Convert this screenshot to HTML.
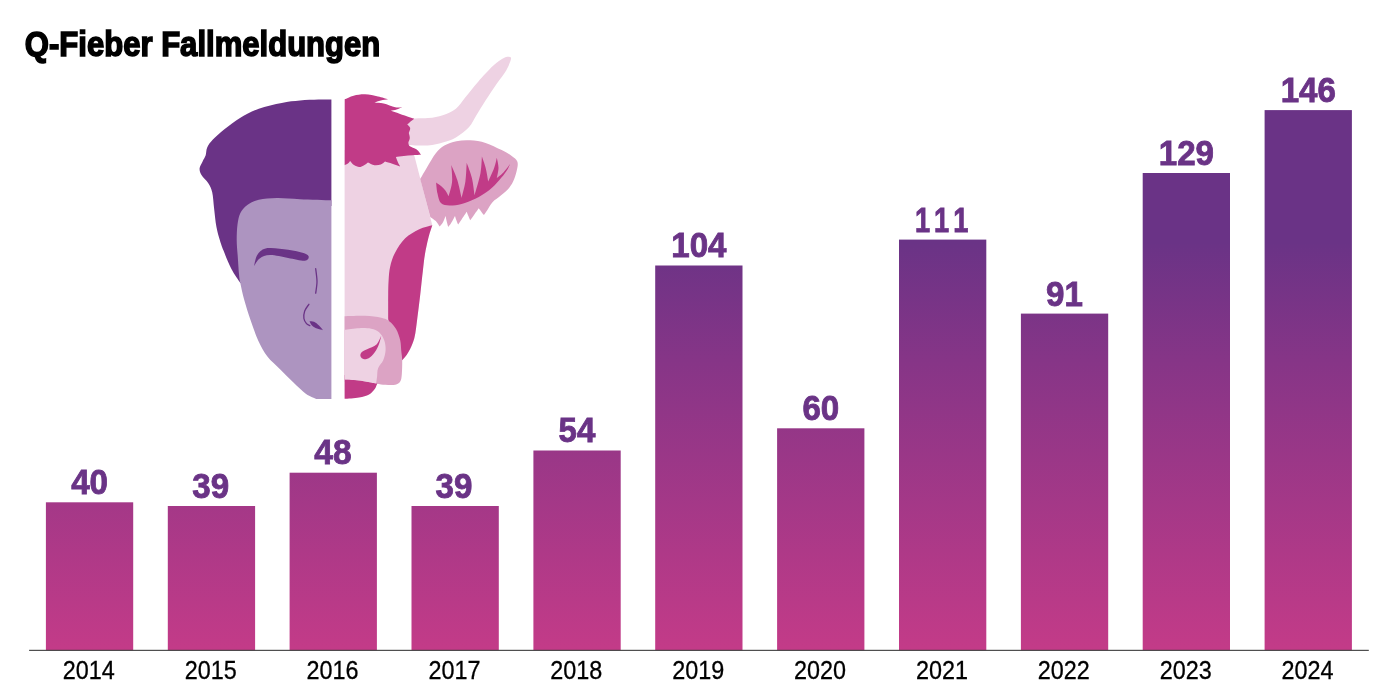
<!DOCTYPE html>
<html lang="de"><head><meta charset="utf-8"><title>Q-Fieber Fallmeldungen</title>
<style>
html,body{margin:0;padding:0;background:#fff;}
body{width:1400px;height:698px;overflow:hidden;font-family:"Liberation Sans",sans-serif;}
svg{display:block;}
.title{font-family:"Liberation Sans",sans-serif;font-weight:700;font-size:35.2px;fill:#000;stroke:#000;stroke-width:1.6px;stroke-linejoin:miter;}
.val{font-family:"Liberation Sans",sans-serif;font-weight:700;font-size:35.8px;fill:#6a3386;stroke:#6a3386;stroke-width:0.9px;}
.yr{font-family:"Liberation Sans",sans-serif;font-size:25.5px;fill:#000;text-anchor:middle;stroke:#000;stroke-width:0.3px;}
</style></head><body>
<svg width="1400" height="698" viewBox="0 0 1400 698">
<defs><linearGradient id="g" gradientUnits="userSpaceOnUse" x1="0" y1="110" x2="0" y2="650">
<stop offset="0" stop-color="#6a3386"/><stop offset="0.245" stop-color="#6a3386"/><stop offset="0.463" stop-color="#863587"/><stop offset="1" stop-color="#c33b88"/></linearGradient></defs>
<text class="title" x="24.8" y="56.0" textLength="355.5" lengthAdjust="spacingAndGlyphs">Q-Fieber Fallmeldungen</text>
<g>
<path d="M331.4 99.5C329.2 99.5 323.6 99.4 318.4 99.6C313.2 99.8 306.1 100.0 300.0 100.6C293.9 101.1 288.6 101.6 281.7 102.9C274.8 104.2 265.7 106.2 258.8 108.7C251.9 111.2 246.1 114.4 240.4 117.8C234.7 121.2 229.0 125.7 224.4 129.3C219.8 132.9 215.8 136.6 212.9 139.6C210.0 142.6 208.4 144.9 207.2 147.6C206.0 150.3 206.4 153.3 205.6 155.6C204.8 157.9 203.6 159.3 202.6 161.4C201.6 163.5 199.8 166.0 199.6 168.3C199.4 170.6 200.1 172.6 201.5 175.1C202.9 177.6 206.5 180.3 208.3 183.2C210.1 186.1 211.2 188.1 212.2 192.3C213.2 196.5 213.4 202.7 214.1 208.4C214.8 214.1 215.4 221.4 216.4 226.7C217.4 232.0 218.6 236.0 219.8 240.0C221.0 244.0 221.6 245.8 223.5 250.6C225.4 255.4 228.5 263.3 231.3 268.7C234.1 274.1 238.8 280.5 240.3 282.9L262.0 284.0L262.0 206.0L331.4 206.0L331.4 99.5Z" fill="#6a3386" />
<path d="M331.4 200.3C326.2 200.1 309.1 199.6 300.0 199.2C290.9 198.8 284.0 197.9 277.1 198.0C270.2 198.1 263.8 198.5 258.8 199.7C253.8 200.8 250.4 202.7 247.3 204.9C244.2 207.1 242.0 209.8 240.4 213.0C238.8 216.2 238.1 219.9 237.5 224.4C236.9 228.9 236.7 234.8 236.7 240.0C236.7 245.2 237.3 250.2 237.7 255.8C238.1 261.4 238.6 269.4 239.0 273.9C239.4 278.4 239.4 278.6 240.3 282.9C241.2 287.2 242.5 293.5 244.2 299.7C245.9 305.9 248.2 313.4 250.6 320.3C253.0 327.2 255.6 335.0 258.4 341.0C261.2 347.0 263.8 351.8 267.4 356.5C271.0 361.2 276.0 365.1 280.3 369.4C284.6 373.7 288.9 378.2 293.2 382.3C297.5 386.4 302.2 391.1 306.1 393.9C310.0 396.7 314.8 398.1 316.5 399.0L331.4 399.0L331.4 200.3Z" fill="#ad94c0" />
<path d="M254.0 266.1C254.6 264.2 255.4 257.5 257.6 254.5C259.8 251.5 262.3 248.9 267.4 248.1C272.5 247.3 282.1 248.9 288.1 249.7C294.1 250.5 300.1 251.9 303.5 253.1C306.9 254.2 308.5 255.3 308.7 256.6C308.9 257.9 308.2 260.6 304.8 260.8C301.4 261.0 293.9 258.9 288.1 257.9C282.3 256.9 274.7 254.9 270.0 255.0C265.3 255.1 262.4 256.5 259.7 258.4C257.0 260.2 254.9 264.8 254.0 266.1Z" fill="#6a3386" />
<path d="M315.7 268.7C315.9 270.9 317.0 277.5 317.0 281.6C317.0 285.7 315.9 291.3 315.7 293.2" fill="none" stroke="#6a3386" stroke-width="1.3" stroke-linecap="round"/>
<path d="M308.9 304.3C308.2 305.4 305.5 308.6 304.7 311.0C303.9 313.4 303.6 316.4 303.9 318.5C304.2 320.6 305.5 322.4 306.5 323.6C307.5 324.8 309.2 325.3 309.8 325.6" fill="none" stroke="#6a3386" stroke-width="1.3" stroke-linecap="round"/>
<path d="M309.5 321.2C310.2 321.3 312.4 321.1 314.0 321.8C315.6 322.5 317.5 324.1 319.0 325.5C320.5 326.9 322.3 329.4 323.0 330.2C322.0 329.9 318.8 329.4 317.0 328.6C315.2 327.8 313.2 326.7 312.0 325.5C310.8 324.3 309.9 321.9 309.5 321.2Z" fill="#6a3386" />
<path d="M344.6 150.0L413.4 152.0L432.3 225.3C431.6 227.5 429.5 233.5 428.3 238.3C427.1 243.2 425.8 249.1 424.9 254.4C424.0 259.8 423.7 263.8 422.9 270.4C422.1 277.0 421.2 286.1 420.3 294.1C419.4 302.1 418.3 310.9 417.3 318.2C416.3 325.5 415.8 332.5 414.3 338.2C412.8 343.9 410.7 348.6 408.3 352.3C405.9 356.0 401.4 359.0 400.0 360.3L396.0 382.0L344.6 382.0L344.6 150.0Z" fill="#eed2e3" />
<path d="M432.3 225.3C430.1 226.0 423.8 227.1 419.3 229.3C414.8 231.5 409.2 234.5 405.2 238.3C401.2 242.2 397.7 247.7 395.2 252.4C392.7 257.1 391.3 261.7 390.2 266.4C389.1 271.1 388.9 275.8 388.6 280.4C388.3 285.0 388.3 287.6 388.2 294.1C388.1 300.6 388.2 315.0 388.2 319.2L395.0 345.0L402.2 360.3C403.2 359.0 406.3 356.0 408.3 352.3C410.3 348.6 412.8 343.9 414.3 338.2C415.8 332.5 416.3 325.5 417.3 318.2C418.3 310.9 419.4 302.1 420.3 294.1C421.2 286.1 422.1 277.0 422.9 270.4C423.7 263.8 424.0 259.8 424.9 254.4C425.8 249.1 427.1 243.2 428.3 238.3C429.5 233.5 431.6 227.5 432.3 225.3Z" fill="#c13b87" />
<path d="M344.6 375.0L380.0 380.0C379.5 380.7 377.9 382.6 377.1 384.0C376.3 385.4 376.4 386.7 375.1 388.4C373.8 390.1 371.8 392.9 369.1 394.4C366.4 395.9 363.2 396.7 359.1 397.4C355.0 398.1 347.0 398.6 344.6 398.8L344.6 375.0Z" fill="#c13b87" />
<path d="M344.6 316.2C348.0 316.1 359.0 315.5 365.1 315.8C371.2 316.1 377.2 316.9 381.2 317.8C385.2 318.7 386.7 319.3 389.2 321.2C391.7 323.1 394.4 326.0 396.2 329.2C398.0 332.4 399.4 336.7 400.2 340.2C401.0 343.7 400.9 346.9 401.2 350.3C401.5 353.7 402.1 356.3 402.2 360.3C402.3 364.3 402.1 370.9 401.8 374.4C401.5 377.9 401.3 379.7 400.2 381.4C399.1 383.1 397.7 384.2 395.2 384.8C392.7 385.4 388.4 385.0 385.2 384.8C382.0 384.6 380.3 384.1 376.1 383.4C371.9 382.7 365.2 381.4 360.0 380.7C354.8 380.0 347.2 379.6 344.6 379.4L344.6 316.2Z" fill="#dca3c4" />
<path d="M344.6 329.8C347.0 329.5 354.7 328.4 359.1 328.2C363.5 328.0 367.8 328.1 371.1 328.8C374.4 329.5 376.9 330.3 379.1 332.2C381.3 334.1 383.1 337.2 384.2 340.2C385.3 343.2 385.8 346.9 385.6 350.3C385.4 353.7 384.4 357.3 383.2 360.3C381.9 363.3 379.1 365.6 378.1 368.3C377.1 371.0 377.4 373.9 377.1 376.4C376.8 378.9 376.3 382.2 376.1 383.4C374.3 383.1 368.6 382.0 365.1 381.4C361.6 380.8 358.5 380.3 355.1 380.0C351.7 379.7 346.4 379.5 344.6 379.4L344.6 329.8Z" fill="#eed2e3" />
<path d="M381.2 335.8C380.4 337.2 378.9 342.2 376.5 344.5C374.1 346.8 369.6 348.0 367.1 349.3C364.6 350.6 362.7 351.1 361.6 352.3C360.5 353.5 360.1 355.1 360.5 356.3C360.9 357.5 362.5 359.1 364.1 359.3C365.7 359.5 368.1 358.8 370.1 357.3C372.1 355.8 374.5 352.8 376.1 350.3C377.7 347.8 378.8 344.6 379.6 342.2C380.5 339.8 380.9 336.9 381.2 335.8Z" fill="#c13b87" />
<path d="M405.0 118.5C408.8 118.4 421.6 118.5 427.9 118.0C434.2 117.5 438.1 116.8 442.8 115.2C447.5 113.7 452.2 111.7 455.9 108.7C459.6 105.8 461.5 102.0 465.2 97.5C468.9 93.0 473.5 87.0 478.2 81.7C482.9 76.4 488.8 69.8 493.1 65.8C497.5 61.8 501.5 59.2 504.3 57.8C507.1 56.3 508.8 56.8 509.9 57.1C511.0 57.4 511.4 57.6 510.8 59.8C510.2 62.0 508.5 66.5 506.2 70.5C503.9 74.5 500.3 78.5 496.9 83.5C493.5 88.5 489.1 95.0 485.7 100.3C482.3 105.6 479.2 110.7 476.4 115.2C473.6 119.7 472.3 123.6 468.9 127.3C465.5 131.0 460.2 134.9 455.9 137.5C451.5 140.1 447.5 141.3 442.8 142.6C438.1 143.9 434.2 145.0 427.9 145.4C421.6 145.8 408.8 145.1 405.0 145.0L405.0 118.5Z" fill="#eed2e3" />
<path d="M344.7 99.3C346.2 98.7 350.2 96.5 353.6 95.7C357.0 94.9 361.0 94.2 365.1 94.3C369.2 94.4 374.2 95.7 378.0 96.5C381.8 97.3 386.3 98.8 388.0 99.3C386.8 99.5 383.1 100.0 380.8 100.5C378.5 101.0 375.5 102.2 374.4 102.5C375.9 102.7 380.2 102.8 383.7 103.6C387.2 104.4 392.1 106.6 395.2 107.2C398.2 107.8 400.9 107.2 402.0 107.2C401.1 107.6 398.5 109.0 396.6 109.6C394.8 110.2 391.8 110.6 390.9 110.8C392.3 111.3 396.4 112.6 399.5 113.7C402.6 114.8 407.1 116.4 409.5 117.2C411.9 118.0 413.4 118.5 414.2 118.7C413.4 119.3 410.6 121.5 409.5 122.5C408.4 123.5 407.7 124.1 407.3 124.4C407.8 125.0 409.9 126.6 410.2 128.0C410.4 129.4 409.0 132.2 408.8 133.0C409.0 133.8 409.9 136.4 409.8 138.0C409.7 139.6 408.6 141.6 408.4 142.3C408.6 142.9 408.1 144.7 409.5 145.9C410.9 147.1 414.8 148.0 416.7 149.5C418.6 151.0 420.3 153.9 421.0 154.8C419.6 154.9 415.3 155.0 412.4 155.2C409.5 155.4 406.6 155.6 403.8 155.9C401.1 156.2 397.2 156.7 395.9 156.9C396.2 157.8 397.3 160.8 398.0 162.4C398.7 164.0 399.8 165.7 400.2 166.4C398.9 166.0 394.8 164.6 392.3 163.8C389.8 163.0 386.3 162.0 385.1 161.6C384.4 162.1 382.6 163.9 380.8 164.5C379.0 165.1 376.5 165.5 374.4 165.2C372.3 164.8 369.1 162.9 368.0 162.4C367.3 162.9 365.2 164.7 363.7 165.5C362.2 166.3 360.8 167.1 359.2 167.0C357.6 166.9 355.5 166.0 354.0 165.0C352.5 164.0 350.8 161.6 350.1 160.9C349.7 161.3 348.8 162.9 347.9 163.6C347.0 164.3 345.2 164.9 344.7 165.2L344.7 99.3Z" fill="#c13b87" />
<path d="M420.2 179.0C421.4 177.0 424.6 171.3 427.2 167.0C429.8 162.7 432.9 156.8 435.8 153.2C438.7 149.6 441.0 147.5 444.4 145.5C447.8 143.5 452.1 142.1 456.4 141.2C460.7 140.3 465.3 140.0 470.2 140.3C475.1 140.6 480.5 141.3 485.6 142.9C490.8 144.5 496.8 147.7 501.1 149.8C505.4 152.0 508.7 153.8 511.4 155.8C514.1 157.8 516.5 159.2 517.4 161.8C518.3 164.4 517.3 168.0 516.6 171.3C515.9 174.6 514.5 178.6 513.1 181.6C511.7 184.6 510.0 187.0 508.0 189.3C506.0 191.6 503.7 193.2 501.1 195.3C498.5 197.5 494.8 199.8 492.5 202.2C490.2 204.6 488.8 207.8 487.4 209.9C486.0 212.1 484.5 214.2 483.9 215.1C483.5 214.5 482.1 212.8 481.3 211.7C480.5 210.5 479.2 208.8 478.8 208.2C478.1 209.2 475.9 212.2 474.5 214.2C473.1 216.2 470.9 219.3 470.2 220.3C469.9 219.6 469.0 217.4 468.4 216.0C467.8 214.6 467.0 212.4 466.7 211.7C465.9 213.0 463.0 217.2 461.6 219.4C460.2 221.6 458.7 223.7 458.1 224.6C457.8 223.9 456.9 221.7 456.4 220.3C455.9 218.9 455.2 216.7 455.0 216.0C454.4 217.1 452.4 221.0 451.3 222.8C450.2 224.7 448.7 226.4 448.2 227.1C447.9 226.1 447.0 222.9 446.6 221.1C446.2 219.2 445.8 216.8 445.6 216.0C445.1 217.1 443.7 221.0 442.7 222.8C441.7 224.6 440.1 226.0 439.6 226.6C439.0 225.7 437.4 222.7 435.8 221.1C434.2 219.5 431.2 217.7 430.3 217.0L420.2 179.0Z" fill="#dca3c4" />
<path d="M436.1 182.4C436.3 184.3 436.7 190.2 437.5 193.6C438.3 197.0 438.9 201.1 440.9 203.1C442.9 205.1 446.1 205.5 449.5 205.6C452.9 205.7 457.3 205.0 461.6 203.9C465.9 202.8 470.7 201.1 475.3 198.8C479.9 196.5 485.1 193.3 489.1 190.2C493.1 187.0 496.5 183.1 499.4 179.9C502.3 176.8 504.5 174.0 506.3 171.3C508.1 168.7 509.5 165.2 510.1 164.0C508.9 165.5 505.0 170.7 502.8 173.0C500.6 175.3 497.8 177.2 496.8 178.1C497.1 176.4 498.5 171.2 498.5 167.8C498.5 164.4 497.1 159.5 496.8 157.8C496.4 159.5 495.6 163.8 494.2 167.8C492.8 171.8 489.2 179.3 488.2 181.6C487.8 179.3 486.7 172.0 485.6 167.8C484.6 163.6 482.5 158.5 481.9 156.6C481.7 159.3 481.7 166.6 480.5 173.0C479.3 179.4 475.5 191.6 474.5 195.3C474.1 192.4 473.2 183.5 471.9 178.1C470.6 172.7 467.6 165.3 466.7 162.7C466.5 165.8 466.2 175.7 465.4 181.6C464.5 187.5 462.2 195.2 461.6 197.9C460.9 194.9 459.0 185.4 457.3 179.9C455.6 174.4 452.3 167.4 451.3 164.9C451.4 167.7 452.5 176.4 452.1 181.6C451.7 186.8 449.3 193.8 448.7 196.2C448.1 195.2 446.5 191.9 445.2 190.2C443.9 188.5 442.5 187.3 441.0 186.0C439.5 184.7 436.9 183.0 436.1 182.4Z" fill="#c13b87" />
</g>
<g fill="url(#g)">
<rect x="45.9" y="502.3" width="87.3" height="148.0"/>
<rect x="167.8" y="506.0" width="87.3" height="144.3"/>
<rect x="289.6" y="472.7" width="87.3" height="177.6"/>
<rect x="411.5" y="506.0" width="87.3" height="144.3"/>
<rect x="533.4" y="450.5" width="87.3" height="199.8"/>
<rect x="655.2" y="265.5" width="87.3" height="384.8"/>
<rect x="777.1" y="428.3" width="87.3" height="222.0"/>
<rect x="899.0" y="239.6" width="87.3" height="410.7"/>
<rect x="1020.9" y="313.6" width="87.3" height="336.7"/>
<rect x="1142.7" y="173.0" width="87.3" height="477.3"/>
<rect x="1264.6" y="110.1" width="87.3" height="540.2"/>
</g>
<rect x="29.1" y="649.8" width="1339.7" height="1.1" fill="#3c3c3c"/>
<g class="val">
<text transform="translate(71.2 494.4) scale(0.9246 1)" x="0.00 19.90">40</text>
<text transform="translate(192.3 498.1) scale(0.9246 1)" x="0.00 19.90">39</text>
<text transform="translate(314.3 463.8) scale(0.935 1)" x="0.00 19.89">48</text>
<text transform="translate(435.5 498.1) scale(0.9246 1)" x="0.00 19.90">39</text>
<text transform="translate(558.6 442.2) scale(0.9246 1)" x="0.00 19.90">54</text>
<text transform="translate(671.3 256.6) scale(0.9246 1)" x="0.00 19.90 39.80">104</text>
<text transform="translate(802.4 420.4) scale(0.9246 1)" x="0.00 19.90">60</text>
<text transform="translate(915.0 231.7) scale(0.76 1)" x="0.00 25.13 50.26">111</text>
<text transform="translate(1046.1 305.7) scale(0.9246 1)" x="0.00 19.90">91</text>
<text transform="translate(1158.8 165.1) scale(0.9246 1)" x="0.00 19.90 39.80">129</text>
<text transform="translate(1280.7 102.2) scale(0.9246 1)" x="0.00 19.90 39.80">146</text>
</g>
<g class="yr">
<text x="88.8" y="679.4" textLength="52" lengthAdjust="spacingAndGlyphs">2014</text>
<text x="210.7" y="679.4" textLength="52" lengthAdjust="spacingAndGlyphs">2015</text>
<text x="332.6" y="679.4" textLength="52" lengthAdjust="spacingAndGlyphs">2016</text>
<text x="454.5" y="679.4" textLength="52" lengthAdjust="spacingAndGlyphs">2017</text>
<text x="576.3" y="679.4" textLength="52" lengthAdjust="spacingAndGlyphs">2018</text>
<text x="698.2" y="679.4" textLength="52" lengthAdjust="spacingAndGlyphs">2019</text>
<text x="820.1" y="679.4" textLength="52" lengthAdjust="spacingAndGlyphs">2020</text>
<text x="941.9" y="679.4" textLength="52" lengthAdjust="spacingAndGlyphs">2021</text>
<text x="1063.8" y="679.4" textLength="52" lengthAdjust="spacingAndGlyphs">2022</text>
<text x="1185.7" y="679.4" textLength="52" lengthAdjust="spacingAndGlyphs">2023</text>
<text x="1307.6" y="679.4" textLength="52" lengthAdjust="spacingAndGlyphs">2024</text>
</g>
</svg>
</body></html>
